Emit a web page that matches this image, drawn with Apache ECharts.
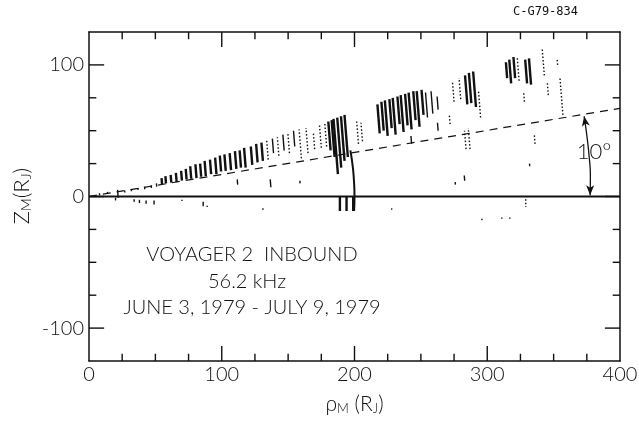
<!DOCTYPE html>
<html>
<head>
<meta charset="utf-8">
<script src="https://cdn.jsdelivr.net/npm/echarts@6/dist/echarts.min.js"></script>
<style>
  html, body { margin: 0; padding: 0; background: #fff; }
  #chart { width: 639px; height: 430px; }
</style>
</head>
<body>
<div id="chart"></div>
<script>
// heavy strokes: rho position, z start, z end (R_J)
const boldX  = [55, 58, 62, 66, 70, 73.5, 77, 81, 84.5, 88, 92, 96, 99.5, 103, 107, 111, 114.5, 118, 123, 127, 131,
                182, 185, 187.5, 190, 192.5, 195, 189, 194, 199,
                219, 222, 225, 228, 231, 234, 237, 240, 243, 246, 249, 252,
                285, 288, 291.5, 315, 318, 321, 330, 333]
const boldLo = [9.5, 10, 10.5, 11, 12, 13, 13.5, 14, 15, 15.5, 17, 17, 19, 19.5, 20, 21, 22, 22, 24, 26, 27,
                35, 30, 17, 22, 27, 30, 0, 0, 0,
                48, 50, 46, 52, 47, 55, 49, 54, 51, 58, 53, 62,
                70, 71, 68, 90, 86, 90, 86, 85]
const boldHi = [14, 15.5, 16.5, 18, 19.5, 21, 23, 24.5, 25, 27, 28, 29.5, 31, 32, 33, 34.5, 35, 37, 38, 40, 41,
                57, 58, 59, 60, 61, 62, -11, -11, -11,
                70, 72, 73, 74, 75, 76, 77, 78, 79, 80, 80, 81,
                92, 94, 95, 102, 104, 106, 104, 105]

// light strokes
const thinX  = [8, 14, 22, 27, 32, 37, 42, 47, 51, 20, 34, 38, 43, 49, 70, 86, 112, 137, 159, 131, 89, 228,
                243, 263, 276, 283, 332, 317, 296, 311, 255, 259, 263, 139, 147, 155]
const thinLo = [1, 2, -1, 3, 4, 5, 5.5, 6.5, 7.5, -1, -2, -2.5, -3, -3, -2.5, -4, 9, 7, 10, -9, -7, -9,
                40, 50, 9, 12, 23, -16, -17, -16, 60, 63, 66, 33, 35, 38]
const thinHi = [2.5, 3.5, 5, 4.5, 5.5, 6.5, 7.5, 8.5, 10, -3, -4, -5, -5.5, -6, -3.5, -7.5, 13, 13, 12, -10, -8, -10,
                46, 56, 11, 16, 25, -17, -18, -17, 79, 80, 76, 44, 47, 50]

// dotted strokes
const dotX  = [135, 143, 151, 160, 165, 170, 175, 179, 203, 206, 272, 275, 280, 287, 295,
               324, 343, 346, 353, 357, 328, 284, 336, 329]
const dotLo = [28, 31, 33, 29, 33, 36, 37, 38, 40, 42, 55, 72, 74, 36, 60,
               88, 92, 77, 100, 62, 72, 36, 40, -2]
const dotHi = [43, 45, 48, 51, 52, 49, 54, 56, 58, 56, 62, 88, 90, 52, 80,
               106, 112, 87, 105, 90, 79, 50, 48, -8]

// 200 R_J arc, the 10 degree line and its angle arrow
const arcX = [199.7, 200, 199.4, 198.4, 196.9]
const arcY = [-11, 0, 15, 25, 35]
const tenDegX = [0, 400]
const tenDegY = [0, 67]
const arrowX = [377.5, 377.7, 376.8, 375.2, 373]
const arrowY = [1, 16, 30, 45, 61]

// tick marks on the frame
const xMajorTicks = [100, 200, 300]
const xMinorTicks = [25, 50, 75, 125, 150, 175, 225, 250, 275, 325, 350, 375]
const yMajorTicks = [-100, 0, 100]
const yMinorTicks = [-75, -50, -25, 25, 50, 75]

const font = 'Lato'
const ink = '#111'

const zip3 = (a, b, c) => a.map((v, i) => [v, b[i], c[i]])
const zip2 = (a, b) => a.map((v, i) => [v, b[i]])

// one line per item: [fixed value, from, to]; vertical when horizontal === false
function segSeries(data, width, opts) {
  opts = opts || {}
  return {
    type: 'custom',
    data: data,
    encode: opts.horizontal ? { y: 0, x: [1, 2] } : { x: 0, y: [1, 2] },
    renderItem: (params, api) => {
      const a = opts.horizontal ? [api.value(1), api.value(0)] : [api.value(0), api.value(1)]
      const b = opts.horizontal ? [api.value(2), api.value(0)] : [api.value(0), api.value(2)]
      const p0 = api.coord(a)
      const p1 = api.coord(b)
      const lean = opts.lean ? Math.max(0, p0[1] - p1[1]) * 0.08 : 0
      return {
        type: 'line',
        shape: { x1: p0[0], y1: p0[1], x2: p1[0] - lean, y2: p1[1] },
        style: { stroke: ink, lineWidth: width, lineDash: opts.dash || null }
      }
    },
    z: 5,
    silent: true
  }
}

// inward ticks on both opposite sides, as [position, from, to] in axis units
function tickItems(values, lo, hi, len) {
  const out = []
  values.forEach(v => {
    out.push([v, lo, lo + len])
    out.push([v, hi, hi - len])
  })
  return out
}
const xTickItems = [].concat(
  tickItems(xMajorTicks, -125, 125, 11.4),
  tickItems(xMinorTicks, -125, 125, 5.5)
)
const yTickItems = [].concat(
  tickItems(yMajorTicks, 0, 400, 11.4),
  tickItems(yMinorTicks, 0, 400, 5.5)
)

// arrowheads only at both ends of the angle arc
const arrowData = zip2(arrowX, arrowY).map((p, i, all) => {
  if (i === 0) return { value: p, symbol: 'arrow', symbolRotate: 180 }
  if (i === all.length - 1) return { value: p, symbol: 'arrow', symbolRotate: 10 }
  return { value: p, symbol: 'none' }
})

const chart = echarts.init(document.getElementById('chart'))

const lineStyle = { color: ink, width: 1.5 }
const yBase = { type: 'value', min: -125, max: 125, interval: 25, splitLine: { show: false },
  axisTick: { show: false }, axisLine: { show: true, onZero: false, lineStyle: lineStyle } }
const xBase = { type: 'value', min: 0, max: 400, interval: 100, splitLine: { show: false },
  axisTick: { show: false }, axisLine: { show: true, onZero: false, lineStyle: lineStyle } }

const richLabel = {
  r: { fontFamily: font, fontSize: 21, fontWeight: 300, color: ink, verticalAlign: 'middle', lineHeight: 21 },
  s: { fontFamily: font, fontSize: 13, fontWeight: 300, color: ink, verticalAlign: 'bottom', lineHeight: 12, padding: [12, 0, 0, 0] }
}

chart.setOption({
  animation: false,
  backgroundColor: '#fff',
  grid: { left: 89, right: 19, top: 32, bottom: 69, outerBoundsMode: 'none' },
  xAxis: [
    Object.assign({}, xBase, {
      position: 'bottom',
      axisLabel: { color: ink, fontFamily: font, fontSize: 20, fontWeight: 300, margin: 4 },
      name: '{r|ρ}{s|M}{r| (R}{s|J}{r|)}',
      nameLocation: 'middle',
      nameGap: 32,
      nameTextStyle: { rich: richLabel }
    }),
    Object.assign({}, xBase, { position: 'top', axisLabel: { show: false } })
  ],
  yAxis: [
    Object.assign({}, yBase, {
      position: 'left',
      axisLabel: {
        color: ink, fontFamily: font, fontSize: 20, fontWeight: 300, margin: 5,
        formatter: v => (v % 100 === 0 ? String(v) : '')
      }
    }),
    Object.assign({}, yBase, { position: 'right', axisLabel: { show: false } })
  ],
  series: [
    segSeries(xTickItems, 1.4),
    segSeries(yTickItems, 1.4, { horizontal: true }),
    {
      type: 'line',
      data: [[0, 0], [400, 0]],
      symbol: 'none',
      lineStyle: { color: ink, width: 1.8 },
      silent: true
    },
    {
      type: 'line',
      data: zip2(tenDegX, tenDegY),
      symbol: 'none',
      lineStyle: { color: ink, width: 1.2, type: [8, 6] },
      silent: true
    },
    {
      type: 'line',
      data: zip2(arcX, arcY),
      symbol: 'none',
      smooth: true,
      lineStyle: { color: ink, width: 2 },
      silent: true
    },
    {
      type: 'line',
      data: arrowData,
      smooth: true,
      symbolSize: [6, 10],
      showSymbol: true,
      itemStyle: { color: ink },
      lineStyle: { color: ink, width: 1.3 },
      silent: true
    },
    segSeries(zip3(boldX, boldLo, boldHi), 2.4, { lean: true }),
    segSeries(zip3(thinX, thinLo, thinHi), 1.4, { lean: true }),
    segSeries(zip3(dotX, dotLo, dotHi), 1.4, { lean: true, dash: [1.5, 2] })
  ],
  graphic: [
    { type: 'text', left: 513, top: 6,
      style: { text: 'C-G79-834', font: '12px monospace', fill: ink } },
    { type: 'text', x: 22, y: 196, rotation: Math.PI / 2,
      style: { text: '{r|Z}{s|M}{r|(R}{s|J}{r|)}', align: 'center', verticalAlign: 'middle', rich: {
        r: { fontFamily: font, fontSize: 22, fontWeight: 300, fill: ink, verticalAlign: 'middle', lineHeight: 22 },
        s: { fontFamily: font, fontSize: 14, fontWeight: 300, fill: ink, verticalAlign: 'bottom', lineHeight: 13, padding: [13, 0, 0, 0] }
      } } },
    { type: 'text', x: 594, y: 152,
      style: { text: '10°', font: '300 22px Lato', fill: ink, align: 'center', verticalAlign: 'middle' } },
    { type: 'text', x: 252, y: 255,
      style: { text: 'VOYAGER 2  INBOUND', font: '300 20px Lato', fill: ink, align: 'center', verticalAlign: 'middle' } },
    { type: 'text', x: 247, y: 282,
      style: { text: '56.2 kHz', font: '300 20px Lato', fill: ink, align: 'center', verticalAlign: 'middle' } },
    { type: 'text', x: 252, y: 308,
      style: { text: 'JUNE 3, 1979 - JULY 9, 1979', font: '300 20px Lato', fill: ink, align: 'center', verticalAlign: 'middle' } }
  ]
})
</script>
</body>
</html>
